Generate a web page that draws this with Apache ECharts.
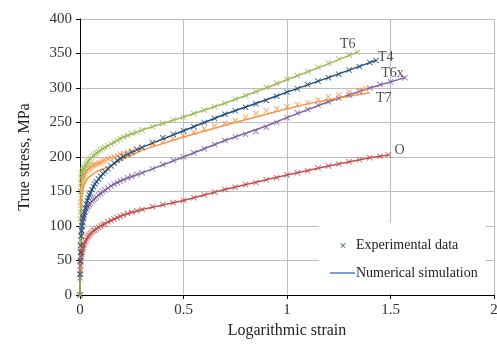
<!DOCTYPE html>
<html>
<head>
<meta charset="utf-8">
<script src="https://cdn.jsdelivr.net/npm/echarts@6/dist/echarts.min.js"></script>
<style>
  html, body { margin: 0; padding: 0; background: #fff; }
  #chart { width: 497px; height: 347px; }
</style>
</head>
<body>
<div id="chart"></div>
<script>
// experimental points [strain, stress]
var t6Exp = [[0,0],[0.001,80],[0.002,120],[0.003,150],[0.004,162],[0.006,170],[0.008,174],[0.01,177],[0.0125,180],[0.015,182],
  [0.0175,184],[0.02,185],[0.025,188],[0.03,190],[0.035,192],[0.04,194],[0.045,196],[0.05,198],[0.057,200],[0.065,202],
  [0.072,204],[0.08,206],[0.09,208],[0.1,210],[0.11,212],[0.12,214],[0.135,216],[0.15,219],[0.165,221],[0.18,224],
  [0.195,226],[0.21,229],[0.23,231],[0.25,234],[0.275,236],[0.3,239],[0.35,244],
  [0.4,249],[0.45,254],[0.5,258],[0.55,263],[0.6,268],[0.65,273],[0.7,278],[0.75,284],[0.8,289],[0.85,295],
  [0.9,301],[0.95,307],[1.0,313],[1.05,318],[1.1,324],[1.15,330],[1.2,336],[1.25,342],[1.3,348],[1.34,352]];
var t4Exp = [[0,0],[0.001,30],[0.002,50],[0.003,62],[0.004,72],[0.006,85],[0.008,93],[0.01,100],[0.0125,106],[0.015,112],
  [0.0175,116],[0.02,120],[0.025,126],[0.03,132],[0.035,137],[0.04,141],[0.045,145],[0.05,148],[0.057,153],[0.065,157],
  [0.072,161],[0.08,164],[0.09,168],[0.1,172],[0.11,176],[0.12,179],[0.135,183],[0.15,187],[0.165,191],[0.18,195],
  [0.195,198],[0.21,201],[0.23,204],[0.25,207],[0.275,211],[0.3,214],[0.35,221],[0.4,228],
  [0.45,233],[0.5,238],[0.55,244],[0.6,250],[0.65,256],[0.7,262],[0.75,267],[0.8,272],[0.85,277],[0.9,282],
  [0.95,288],[1.0,294],[1.05,299],[1.1,305],[1.15,310],[1.2,315],[1.25,320],[1.3,326],[1.35,331],[1.4,337],[1.43,340]];
var t7Exp = [[0,0],[0.001,70],[0.002,110],[0.003,130],[0.004,140],[0.006,150],[0.008,156],[0.01,160],[0.0125,164],[0.015,168],
  [0.0175,171],[0.02,173],[0.025,176],[0.03,179],[0.035,181],[0.04,183],[0.045,184],[0.05,185],[0.057,187],[0.065,188],
  [0.072,189],[0.08,190],[0.09,191],[0.1,192],[0.11,194],[0.12,195],[0.135,197],[0.15,199],[0.165,200],[0.18,202],
  [0.195,204],[0.21,205],[0.23,207],[0.25,209],[0.275,211],[0.3,213],[0.35,218],
  [0.4,222],[0.45,227],[0.5,231],[0.55,236],[0.6,241],[0.65,245],[0.7,249],[0.75,253],[0.8,258],[0.85,263],
  [0.9,267],[0.95,270],[1.0,273],[1.05,276],[1.1,279],[1.15,283],[1.2,287],[1.25,290],[1.3,294],[1.35,297],[1.38,299]];
var t6xExp = [[0,0],[0.001,30],[0.002,50],[0.003,62],[0.004,72],[0.006,86],[0.008,94],[0.01,100],[0.0125,105],[0.015,110],
  [0.0175,113],[0.02,116],[0.025,120],[0.03,124],[0.035,127],[0.04,129],[0.045,131],[0.05,133],[0.057,136],[0.065,138],
  [0.072,140],[0.08,142],[0.09,145],[0.1,147],[0.11,150],[0.12,152],[0.135,155],[0.15,158],[0.165,161],[0.18,163],
  [0.195,165],[0.21,167],[0.23,170],[0.25,172],[0.275,175],[0.3,177],[0.35,183],[0.4,189],
  [0.45,195],[0.5,200],[0.55,206],[0.6,212],[0.65,218],[0.7,224],[0.75,229],[0.8,233],[0.85,237],[0.9,243],
  [0.95,250],[1.0,257],[1.05,264],[1.1,269],[1.15,275],[1.2,280],[1.25,285],[1.3,290],[1.35,295],[1.4,300],
  [1.45,305],[1.5,309],[1.57,315]];
var oExp = [[0,0],[0.001,25],[0.002,35],[0.003,43],[0.004,48],[0.006,55],[0.008,59],[0.01,62],[0.0125,66],[0.015,69],
  [0.0175,72],[0.02,74],[0.025,77],[0.03,80],[0.035,83],[0.04,85],[0.045,87],[0.05,89],[0.057,91],[0.065,93],
  [0.072,94],[0.08,96],[0.09,98],[0.1,100],[0.11,102],[0.12,103],[0.135,106],[0.15,108],[0.165,110],[0.18,112],
  [0.195,114],[0.21,116],[0.23,118],[0.25,120],[0.275,122],[0.3,124],[0.35,128],[0.4,131],
  [0.45,134],[0.5,137],[0.55,141],[0.6,145],[0.65,149],[0.7,153],[0.75,156],[0.8,160],[0.85,163],[0.9,167],
  [0.95,170],[1.0,174],[1.05,177],[1.1,180],[1.15,184],[1.2,187],[1.25,190],[1.3,193],[1.35,196],[1.4,199],
  [1.45,201],[1.49,203]];

// numerical simulations [strain, stress]
var t6Sim = [[0,0],[0.003,150],[0.01,177],[0.02,185],[0.05,198],[0.1,210],[0.2,228],[0.3,239],[0.5,258],[0.7,278],
  [0.9,300],[1.0,312],[1.2,335],[1.34,352]];
var t4Sim = [[0,0],[0.002,50],[0.005,80],[0.01,100],[0.02,120],[0.04,141],[0.07,160],[0.1,172],[0.15,187],[0.2,199],
  [0.3,214],[0.5,238],[0.7,262],[0.9,283],[1.0,294],[1.2,315],[1.43,340]];
var t7Sim = [[0,0],[0.003,100],[0.008,140],[0.015,155],[0.02,160],[0.04,170],[0.08,179],[0.14,186],[0.2,196],
  [0.3,210],[0.5,229],[0.7,246],[0.9,262],[1.0,270],[1.1,277],[1.2,283],[1.3,288],[1.4,293]];
var t6xSim = [[0,0],[0.002,50],[0.005,80],[0.01,100],[0.02,116],[0.04,129],[0.07,140],[0.1,147],[0.15,158],[0.2,166],
  [0.3,177],[0.5,200],[0.7,224],[0.9,245],[1.0,257],[1.2,280],[1.4,300],[1.57,315]];
var oSim = [[0,0],[0.002,35],[0.005,50],[0.01,62],[0.02,74],[0.04,85],[0.07,94],[0.1,100],[0.15,108],[0.2,115],
  [0.3,124],[0.5,137],[0.7,153],[0.9,167],[1.0,174],[1.2,187],[1.4,199],[1.49,203]];

// curve labels [name, strain, stress]
var curveLabels = [['T6',1.293,363],['T4',1.477,345],['T6x',1.51,321],['T7',1.467,285],['O',1.544,210]];

var colors = {T6:'#9BBB59', T4:'#1F4E7A', T7:'#F79646', T6x:'#8064A2', O:'#C0504D'};
var xMark = 'path://M0,1L1,0L5,4L9,0L10,1L6,5L10,9L9,10L5,6L1,10L0,9L4,5Z';
var serif = 'Liberation Serif';

var chart = echarts.init(document.getElementById('chart'));

function lineSeries(name, data){
  return {
    name: name, type: 'line', data: data, showSymbol: false, symbol: 'none',
    lineStyle: {color: colors[name], width: 1.5}, z: 2
  };
}
function expSeries(name, data){
  return {
    name: name + ' exp', type: 'scatter', data: data, symbol: xMark, symbolSize: 6,
    itemStyle: {color: colors[name], opacity: 0.9}, z: 3
  };
}

// small x for the legend box, centred on (cx, cy)
function legendCross(cx, cy, s){
  var p = [[0,1],[1,0],[5,4],[9,0],[10,1],[6,5],[10,9],[9,10],[5,6],[1,10],[0,9],[4,5]];
  return p.map(function(q){ return [cx + (q[0] - 5) * s / 10, cy + (q[1] - 5) * s / 10]; });
}

var series = [
  lineSeries('O', oSim), expSeries('O', oExp),
  lineSeries('T6x', t6xSim), expSeries('T6x', t6xExp),
  lineSeries('T7', t7Sim), expSeries('T7', t7Exp),
  lineSeries('T4', t4Sim), expSeries('T4', t4Exp),
  lineSeries('T6', t6Sim), expSeries('T6', t6Exp),
  {
    type: 'scatter', symbolSize: 0, z: 5,
    data: curveLabels.map(function(l){ return {name: l[0], value: [l[1], l[2]]}; }),
    label: {show: true, position: 'inside', formatter: '{b}', fontFamily: serif, fontSize: 14, color: '#222'}
  }
];

chart.setOption({
  animation: false,
  backgroundColor: '#fff',
  grid: {left: 80, right: 3, top: 19, bottom: 52, outerBoundsMode: 'none'},
  xAxis: {
    type: 'value', min: 0, max: 2, interval: 0.5,
    name: 'Logarithmic strain', nameLocation: 'middle', nameGap: 28,
    nameTextStyle: {fontFamily: serif, fontSize: 16, color: '#222'},
    axisLine: {lineStyle: {color: '#000', width: 1}},
    axisTick: {show: true, length: 4, lineStyle: {color: '#000'}},
    axisLabel: {fontFamily: serif, fontSize: 15, color: '#333', margin: 8},
    splitLine: {show: true, lineStyle: {color: '#BEBEBE', width: 1}}
  },
  yAxis: {
    type: 'value', min: 0, max: 400, interval: 50,
    name: 'True stress, MPa', nameLocation: 'middle', nameGap: 47,
    nameTextStyle: {fontFamily: serif, fontSize: 16, color: '#222'},
    axisLine: {show: true, lineStyle: {color: '#000', width: 1}},
    axisTick: {show: true, length: 4, lineStyle: {color: '#000'}},
    axisLabel: {fontFamily: serif, fontSize: 15, color: '#333', margin: 8},
    splitLine: {show: true, lineStyle: {color: '#BEBEBE', width: 1}}
  },
  graphic: [
    {type: 'rect', shape: {x: 319, y: 223, width: 167, height: 70}, style: {fill: '#fff'}, z: 10},
    {type: 'polygon', shape: {points: legendCross(343, 245.5, 5)}, style: {fill: '#1F4E7A'}, z: 11},
    {type: 'text', x: 356, y: 245, style: {text: 'Experimental data', font: '14px "Liberation Serif"', fill: '#222', verticalAlign: 'middle'}, z: 11},
    {type: 'line', shape: {x1: 330, y1: 273, x2: 355, y2: 273}, style: {stroke: '#4F81BD', lineWidth: 1.5}, z: 11},
    {type: 'text', x: 356, y: 273, style: {text: 'Numerical simulation', font: '14px "Liberation Serif"', fill: '#222', verticalAlign: 'middle'}, z: 11}
  ],
  series: series
});
</script>
</body>
</html>
